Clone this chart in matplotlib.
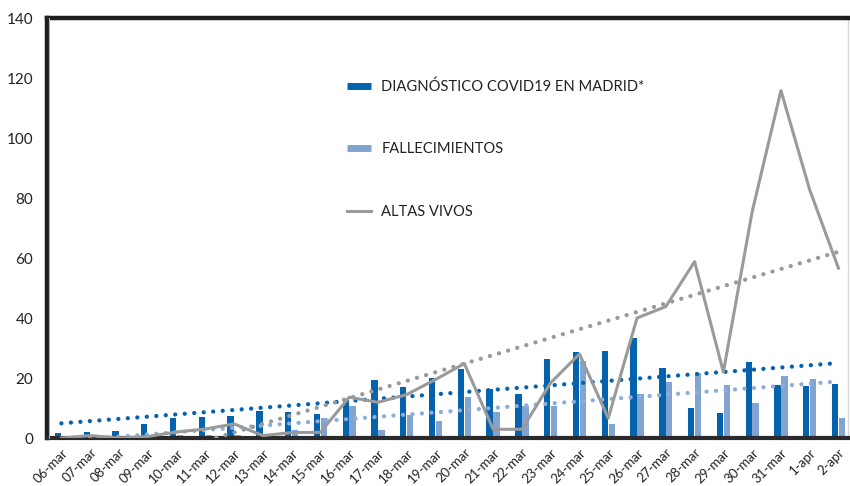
import numpy as np
import matplotlib
matplotlib.use("Agg")
import matplotlib.pyplot as plt
from matplotlib.lines import Line2D

plt.rcParams['font.family'] = ['Lato', 'DejaVu Sans']

categories = ['06-mar', '07-mar', '08-mar', '09-mar', '10-mar', '11-mar', '12-mar',
              '13-mar', '14-mar', '15-mar', '16-mar', '17-mar', '18-mar', '19-mar',
              '20-mar', '21-mar', '22-mar', '23-mar', '24-mar', '25-mar', '26-mar',
              '27-mar', '28-mar', '29-mar', '30-mar', '31-mar', '1-apr', '2-apr']
diagnostico = [1.7, 2, 2.5, 4.7, 6.7, 7, 7.5, 9, 8.8, 7.9, 12.9, 19.2, 17.1, 20.1,
               22.9, 16.4, 14.8, 26.3, 28.6, 29.1, 33.3, 23.2, 9.9, 8.4, 25.2,
               17.7, 17.4, 18]
fallecimientos = [0.3, 1, 0.5, 1, 1, 1, 1, 1, 2.7, 6.8, 10.8, 2.8, 7.8, 5.8,
                  13.7, 8.8, 10.8, 10.8, 25.7, 4.7, 14.7, 18.7, 21.7, 17.7, 11.8,
                  20.7, 19.7, 6.7]
altas = [0, 0.8, 0, 0.5, 2, 3, 4.7, 0.8, 1.8, 1.9, 13.6, 11.9, 14.5, 19.5, 24.8,
         2.9, 2.9, 18.4, 28, 6.6, 40, 43.8, 58.8, 22, 75.4, 115.8, 82.7, 56.6]
labels = ['DIAGNÓSTICO COVID19 EN MADRID*', 'FALLECIMIENTOS', 'ALTAS VIVOS']

c_dark = '#0563ad'
c_light = '#82a4d3'
c_gray = '#9a9a9a'

fig = plt.figure(figsize=(8.5, 4.86), dpi=100)
ax = fig.add_axes([47/850, 1-438/486, 801/850, 420/486])

x = np.arange(len(categories))
w = 0.22
ax.bar(x - 0.12, diagnostico, width=w, color=c_dark, zorder=2)
ax.bar(x + 0.12, fallecimientos, width=w, color=c_light, zorder=2)
ax.plot(x, altas, color=c_gray, lw=2.2, zorder=4)

dots = (0, (0.01, 2.2))
for series, col in [(diagnostico, c_dark), (fallecimientos, '#8eadd9'), (altas, c_gray)]:
    k, b = np.polyfit(x, series, 1)
    ax.plot(x, k * x + b, color=col, lw=3.1, linestyle=dots, dash_capstyle='round', zorder=3)

ax.set_ylim(0, 140)
ax.set_yticks(np.arange(0, 141, 20))
ax.set_xlim(-0.5, 27.33)
ax.set_xticks(x)
ax.set_xticklabels(categories, rotation=45, ha='right', rotation_mode='anchor', fontsize=9.5, color='#222')
ax.tick_params(axis='y', labelsize=11, length=0, pad=10, labelcolor='#222')
ax.tick_params(axis='x', length=0, pad=6)

for s in ['top', 'left']:
    ax.spines[s].set_linewidth(3.2)
    ax.spines[s].set_color('#1e1e1e')
ax.spines['bottom'].set_linewidth(3)
ax.spines['bottom'].set_color('#2a2a2a')
ax.spines['right'].set_linewidth(1)
ax.spines['right'].set_color('#d8d8d8')
ax.plot([0.003, 0.003], [0, 1], transform=ax.transAxes, color='#9bb8dc', lw=0.8, zorder=5, clip_on=False)

handles = [Line2D([], [], color=c_dark, lw=5, solid_capstyle='butt'),
           Line2D([], [], color=c_light, lw=5, solid_capstyle='butt'),
           Line2D([], [], color=c_gray, lw=2.2)]
ax.legend(handles, labels, loc='upper left', bbox_to_anchor=(340/850, 1-72/486),
          bbox_transform=fig.transFigure, frameon=False, fontsize=10.6,
          labelspacing=3.3, handlelength=1.6, handletextpad=0.7, borderpad=0,
          labelcolor='#222')

fig.savefig('out.png', dpi=100)
